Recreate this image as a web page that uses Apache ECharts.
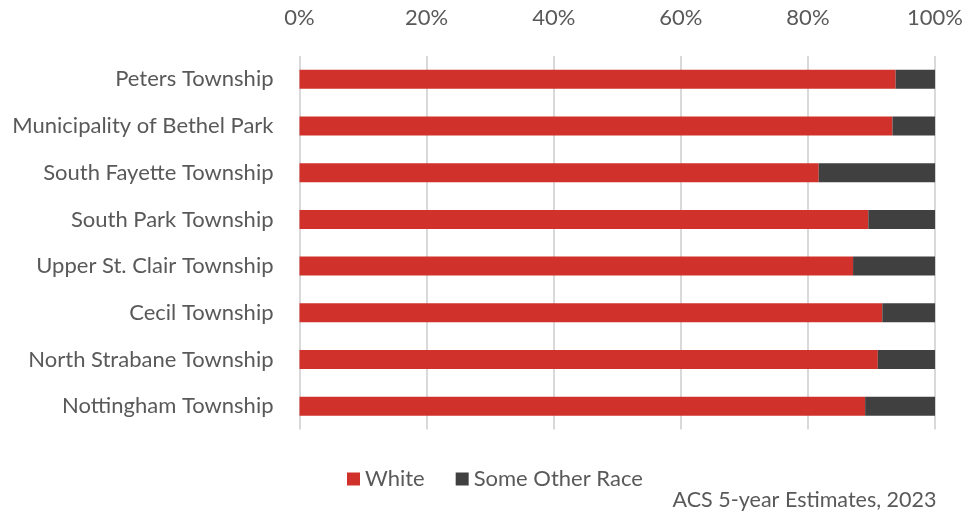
<!DOCTYPE html>
<html>
<head>
<meta charset="utf-8">
<style>
  html, body { margin: 0; padding: 0; background: #ffffff; }
  #chart { width: 966px; height: 520px; }
</style>
<script src="https://cdn.jsdelivr.net/npm/echarts@6/dist/echarts.min.js"></script>
</head>
<body>
<div id="chart"></div>
<script>
// Municipalities, top to bottom
const categories = [
  'Peters Township',
  'Municipality of Bethel Park',
  'South Fayette Township',
  'South Park Township',
  'Upper St. Clair Township',
  'Cecil Township',
  'North Strabane Township',
  'Nottingham Township'
];

// Share of population (%)
const whiteShare = [93.8, 93.3, 81.7, 89.5, 87.1, 91.7, 91.0, 89.0];
const otherRaceShare = [6.2, 6.7, 18.3, 10.5, 12.9, 8.3, 9.0, 11.0];

const seriesNames = ['White', 'Some Other Race'];
const sourceNote = 'ACS 5-year Estimates, 2023';

const FONT = 'Lato';
const TEXT = '#595959';

const chart = echarts.init(document.getElementById('chart'), null, { renderer: 'canvas' });

chart.setOption({
  animation: false,
  textStyle: { fontFamily: FONT },
  grid: { left: 299.5, right: 29.5, top: 56, bottom: 90.5, containLabel: false },
  legend: {
    data: seriesNames,
    left: 342,
    top: 463,
    itemWidth: 13,
    itemHeight: 13,
    itemGap: 31,
    itemTextGap: 7,
    icon: 'rect',
    textStyle: { fontFamily: FONT, fontSize: 22, color: TEXT, padding: [0, 0, 0, 0] }
  },
  graphic: [{
    type: 'text',
    right: 29.5,
    top: 489,
    style: { text: sourceNote, font: '21.5px ' + FONT, fill: TEXT }
  }],
  xAxis: {
    type: 'value',
    position: 'top',
    min: 0,
    max: 100,
    interval: 20,
    axisLine: { show: false },
    axisTick: { show: false },
    axisLabel: {
      formatter: '{value}%',
      fontSize: 22,
      color: TEXT,
      margin: 27,
      fontFamily: FONT
    },
    splitLine: { show: true, lineStyle: { color: '#d9d9d9', width: 2 } }
  },
  yAxis: {
    type: 'category',
    data: categories,
    inverse: true,
    axisLine: { show: false },
    axisTick: { show: false },
    axisLabel: { fontSize: 22, color: TEXT, margin: 26, fontFamily: FONT }
  },
  series: [
    {
      name: seriesNames[0],
      type: 'bar',
      stack: 'share',
      data: whiteShare,
      barWidth: 19,
      itemStyle: { color: '#d0322b' }
    },
    {
      name: seriesNames[1],
      type: 'bar',
      stack: 'share',
      data: otherRaceShare,
      barWidth: 19,
      itemStyle: { color: '#404040' }
    }
  ]
});
</script>
</body>
</html>
